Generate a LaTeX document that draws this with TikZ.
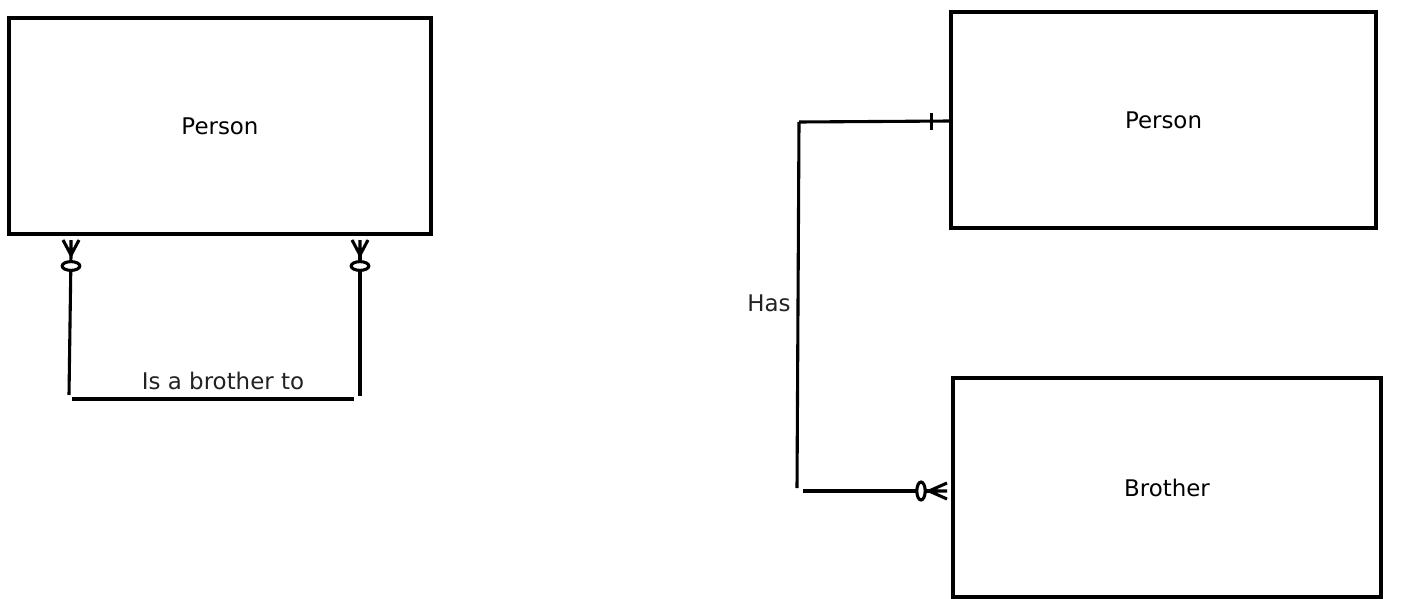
\documentclass[tikz,border=0pt]{standalone}
\usepackage{fontspec}
\setsansfont{DejaVu Sans}
\usetikzlibrary{arrows.meta}
\definecolor{lblgray}{HTML}{222222}

\begin{document}
\begin{tikzpicture}[x=0.025cm,y=-0.025cm,font=\sffamily\fontsize{16.3}{19}\selectfont,
  entity/.style={draw,line width=2.3pt,inner sep=0pt},
  link/.style={line width=2.2pt},
  relname/.style={lblgray,font=\sffamily\fontsize{16.3}{19}\selectfont}]

  \useasboundingbox (0,0) rectangle (1405,598);

  % --- entities ---
  \node[entity,minimum width=10.55cm,minimum height=5.4cm]  (personL) at (220,126) {Person};
  \node[entity,minimum width=10.625cm,minimum height=5.4cm] (personR) at (1163.5,120) {Person};
  \node[entity,minimum width=10.7cm,minimum height=5.475cm] (brother) at (1167,487.5) {Brother};

  % --- recursive relation ends ---
  \coordinate (lfootA) at (71,255);
  \coordinate (lfootB) at (360,255);
  \coordinate (lcornA) at (69,395);
  \coordinate (lcornB) at (360,396);
  \coordinate (lbarA)  at (72,399);
  \coordinate (lbarB)  at (354,399);

  % --- recursive relation ---
  \draw[link] (lfootA) -- (lcornA);
  \draw[link] (lfootB) -- (lcornB);
  \draw[link] (lbarA) -- (lbarB);
  \draw[link] (63,240) -- (lfootA) -- (79,240) (71,240) -- (lfootA);
  \draw[link] (352,240) -- (lfootB) -- (368,240) (360,240) -- (lfootB);
  \draw[link,fill=white] (71,266) ellipse [x radius=8.8, y radius=4.4];
  \draw[link,fill=white] (360,266) ellipse [x radius=8.8, y radius=4.4];
  \node[relname] (brolbl) at (223,381) {Is a brother to};

  % --- has relation ends ---
  \coordinate (hasTop) at (799,122);
  \coordinate (hasBot) at (797,488);
  \coordinate (hasOne) at (950,121);
  \coordinate (hasFoot) at (929,491);
  \coordinate (hasStart) at (803,491);

  % --- has relation ---
  \draw[link] (hasTop) -- (hasOne);
  \draw[link] (hasTop) -- (hasBot);
  \draw[link] (hasStart) -- (hasFoot);
  \draw[link] (931.5,113) -- (931.5,130);
  \draw[link] (947,483) -- (hasFoot) -- (947,499) (947,491) -- (hasFoot);
  \draw[link,fill=white] (921,491) ellipse [x radius=4.2, y radius=9];
  \node[relname] (haslbl) at (769,303) {Has};

\end{tikzpicture}
\end{document}
